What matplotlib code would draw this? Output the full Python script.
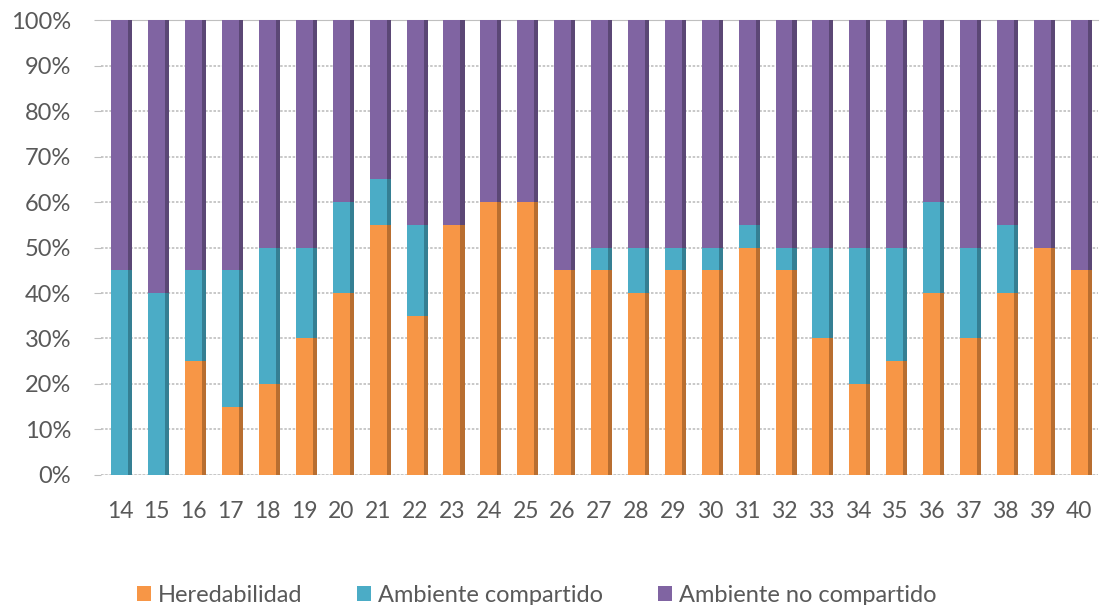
import matplotlib
matplotlib.use('Agg')
import matplotlib.pyplot as plt
import numpy as np

plt.rcParams['font.family'] = ['Lato', 'DejaVu Sans']

edades = [str(e) for e in range(14, 41)]
heredabilidad = [0, 0, 25, 15, 20, 30, 40, 55, 35, 55, 60, 60, 45, 45, 40,
                 45, 45, 50, 45, 30, 20, 25, 40, 30, 40, 50, 45]
compartido = [45, 40, 20, 30, 30, 20, 20, 10, 20, 0, 0, 0, 0, 5, 10,
              5, 5, 5, 5, 20, 30, 25, 20, 20, 15, 0, 0]
no_compartido = [100 - h - c for h, c in zip(heredabilidad, compartido)]

colores = ['#F79646', '#4BACC6', '#8064A2']
sombras = ['#B86E30', '#357F93', '#5B4775']
nombres = ['Heredabilidad', 'Ambiente compartido', 'Ambiente no compartido']

fig = plt.figure(figsize=(11.08, 6.05), dpi=100)
ax = fig.add_axes([0.0916, 0.2149, 0.899, 0.752])

x = np.arange(len(edades))
series = [np.array(heredabilidad) / 100, np.array(compartido) / 100,
          np.array(no_compartido) / 100]
ancho = 0.46
lado = 0.11
base = np.zeros(len(edades))
for vals, col, som, nom in zip(series, colores, sombras, nombres):
    ax.bar(x, vals, ancho, bottom=base, color=col, label=nom, zorder=3)
    ax.bar(x + ancho / 2 + lado / 2, vals, lado, bottom=base, color=som, zorder=3)
    base = base + vals

ax.set_xlim(-0.5, len(edades) - 0.5)
ax.set_ylim(0, 1)
ax.set_yticks(np.arange(0, 1.01, 0.1))
ax.set_yticklabels([f'{int(round(v * 100))}%' for v in np.arange(0, 1.01, 0.1)])
ax.set_xticks(x)
ax.set_xticklabels(edades)
ax.yaxis.grid(True, color='#BFBFBF', linestyle=(0, (1.5, 1)), linewidth=1.2, zorder=0)
for s in ['left', 'right', 'bottom']:
    ax.spines[s].set_visible(False)
ax.spines['top'].set_color('#BFBFBF')
ax.axhline(0, color='#BFBFBF', linewidth=1, zorder=1)
ax.tick_params(axis='y', colors='#BFBFBF', labelcolor='#595959', labelsize=17,
               length=5, pad=17)
ax.tick_params(axis='x', length=0, labelcolor='#595959', labelsize=16.5, pad=19)

ax.legend(loc='upper center', bbox_to_anchor=(0.437, -0.195), ncol=3, frameon=False,
          fontsize=17, handlelength=0.6, handleheight=0.6, handletextpad=0.3,
          columnspacing=2.3, labelcolor='#595959')

fig.savefig('out.png', dpi=100)
